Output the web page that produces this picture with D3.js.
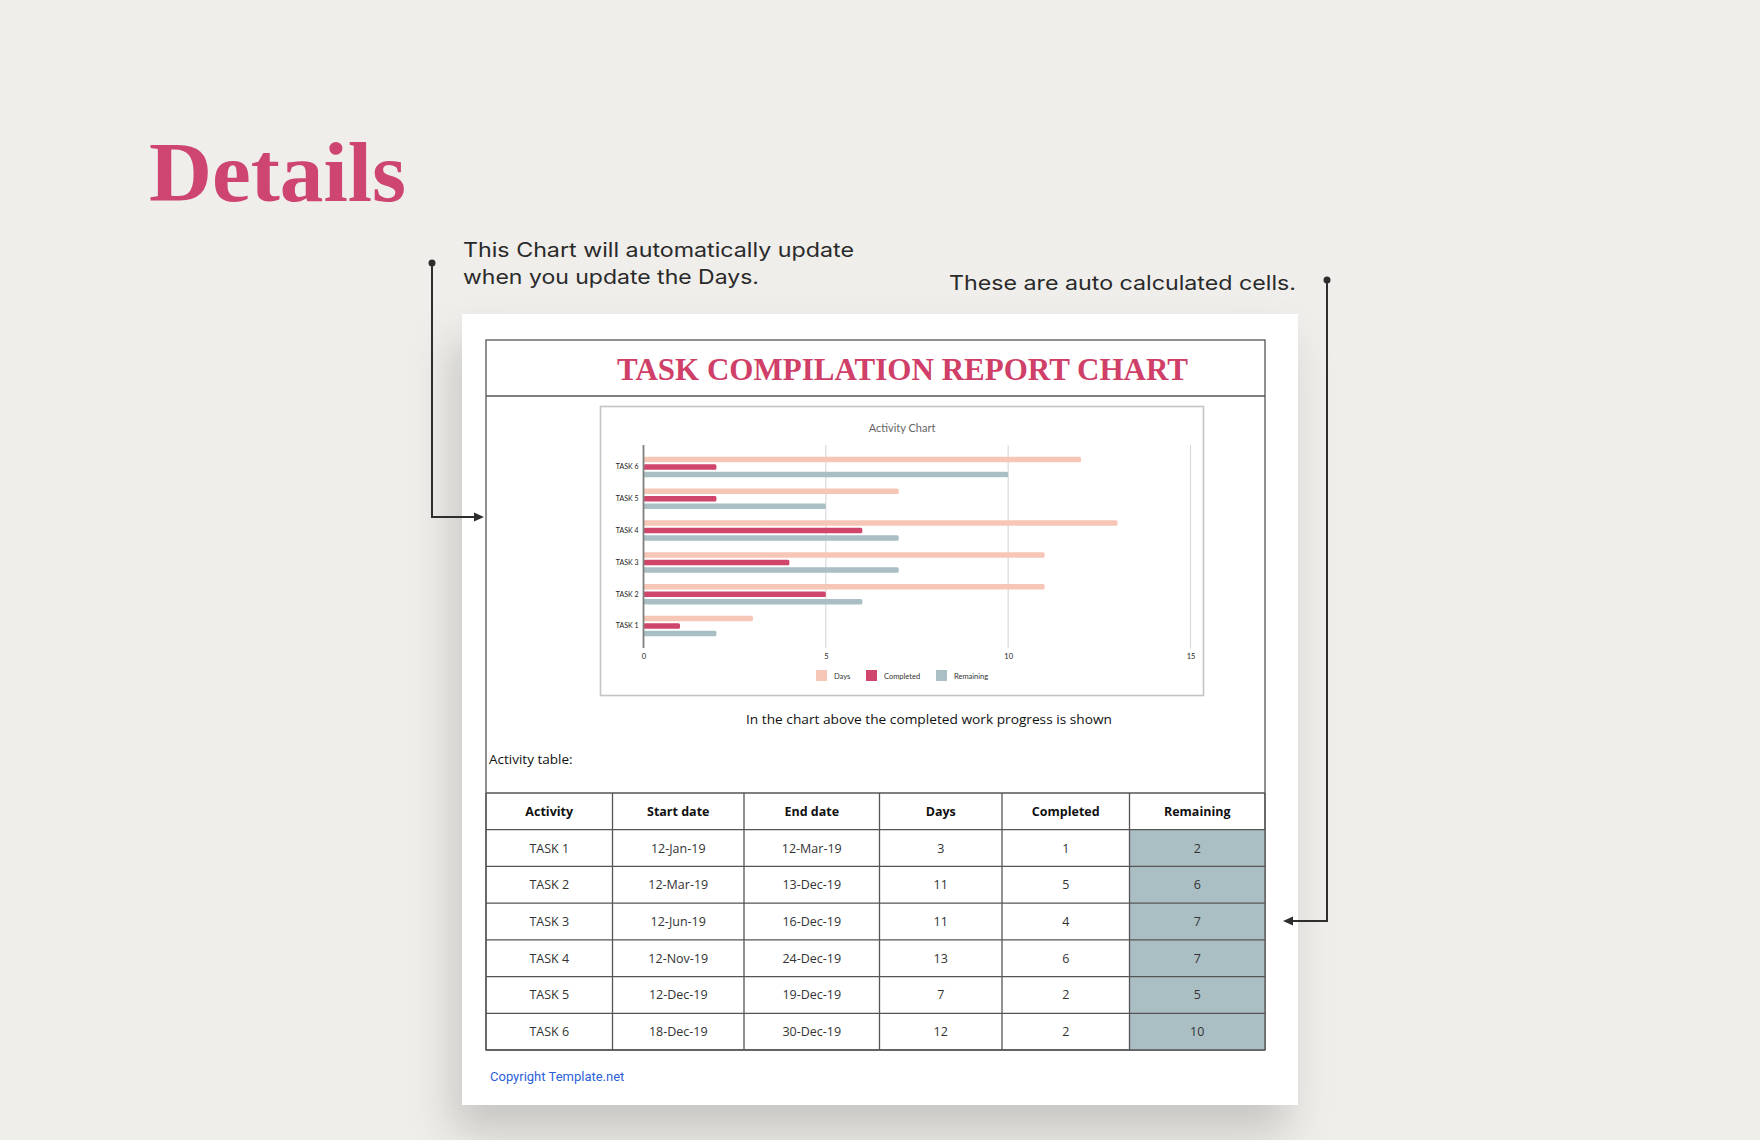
<!DOCTYPE html>
<html><head><meta charset="utf-8">
<script src="https://cdn.jsdelivr.net/npm/d3@7"></script>
<style>html,body{margin:0;padding:0;background:#efeeea;} svg{display:block}</style>
</head><body><svg id="c" width="1760" height="1140"></svg>
<script>
// ---------- data ----------
const tasks = ["TASK 1","TASK 2","TASK 3","TASK 4","TASK 5","TASK 6"];
const startDates = ["12-Jan-19","12-Mar-19","12-Jun-19","12-Nov-19","12-Dec-19","18-Dec-19"];
const endDates = ["12-Mar-19","13-Dec-19","16-Dec-19","24-Dec-19","19-Dec-19","30-Dec-19"];
const days = [3,11,11,13,7,12];
const completed = [1,5,4,6,2,2];
const remaining = [2,6,7,7,5,10];
const seriesNames = ["Days","Completed","Remaining"];
const seriesColors = ["#f6c6b7","#cf456b","#aabfc4"];
const xTicks = [0,5,10,15];
const tableHeaders = ["Activity","Start date","End date","Days","Completed","Remaining"];

// ---------- layout ----------
const svg = d3.select("#c");
const defs = svg.append("defs");
const f = defs.append("filter").attr("id","sh").attr("x","-20%").attr("y","-20%").attr("width","140%").attr("height","140%");
f.append("feDropShadow").attr("dx",-10).attr("dy",28).attr("stdDeviation",22)
  .attr("flood-color","#000").attr("flood-opacity",0.17);

svg.append("rect").attr("width",1760).attr("height",1140).attr("fill","#efeeea");

// heading
svg.append("text").attr("x",149).attr("y",201).text("Details")
  .attr("font-family","'Liberation Serif', serif").attr("font-weight","bold")
  .attr("font-size",84).attr("fill","#cd4570").attr("textLength",257).attr("lengthAdjust","spacingAndGlyphs");

const noteFont = "Inter, 'Open Sans', sans-serif";
function note(x,y,t,len){
  svg.append("text").attr("x",x).attr("y",y).text(t).attr("font-family",noteFont)
    .attr("font-size",20).attr("fill","#2a2a2a").attr("textLength",len).attr("lengthAdjust","spacingAndGlyphs");
}
note(463,257,"This Chart will automatically update",391);
note(463,284,"when you update the Days.",296);
note(949,290,"These are auto calculated cells.",347);

// card
svg.append("rect").attr("x",462).attr("y",314).attr("width",836).attr("height",791)
  .attr("fill","#fff").attr("filter","url(#sh)");

// connectors
const conn = svg.append("g").attr("stroke","#2e2e2e").attr("stroke-width",2).attr("fill","none");
conn.append("path").attr("d","M432,263 V517 H476");
conn.append("path").attr("d","M1327,280 V921 H1292");
svg.append("circle").attr("cx",432).attr("cy",263).attr("r",3.5).attr("fill","#2e2e2e");
svg.append("circle").attr("cx",1327).attr("cy",280).attr("r",3.5).attr("fill","#2e2e2e");
svg.append("path").attr("d","M484,517 L474,512.5 L474,521.5 Z").attr("fill","#2e2e2e");
svg.append("path").attr("d","M1283,921 L1293,916.5 L1293,925.5 Z").attr("fill","#2e2e2e");

// report frame
const frame = svg.append("g").attr("stroke","#555").attr("stroke-width",1.3).attr("fill","none");
frame.append("rect").attr("x",486).attr("y",340).attr("width",779).attr("height",710);
frame.append("line").attr("x1",486).attr("x2",1265).attr("y1",396).attr("y2",396);

svg.append("text").attr("x",902.5).attr("y",380).attr("text-anchor","middle")
  .text("TASK COMPILATION REPORT CHART")
  .attr("font-family","'Liberation Serif', serif").attr("font-weight","bold")
  .attr("font-size",31).attr("fill","#cf3f68").attr("textLength",571).attr("lengthAdjust","spacingAndGlyphs");

// ---------- chart ----------
const cf = "Lato, 'Open Sans', sans-serif";
svg.append("rect").attr("x",600.5).attr("y",406.5).attr("width",603).attr("height",289)
  .attr("fill","#fff").attr("stroke","#c4c4c4").attr("stroke-width",1.6);
svg.append("text").attr("x",902).attr("y",432).attr("text-anchor","middle").text("Activity Chart")
  .attr("font-family",cf).attr("font-size",11).attr("fill","#666");

const x = d3.scaleLinear().domain([0,15]).range([643.5,1190.5]);
const y = d3.scaleBand().domain(tasks.slice().reverse()).range([451,642]);
const sub = d3.scaleBand().domain(seriesNames).range([-11.25,11.25]);
const plotTop = 445, plotBot = 648;

const g = svg.append("g");
// gridlines
g.selectAll("line.grid").data(xTicks.slice(1)).join("line")
  .attr("x1",d=>x(d)).attr("x2",d=>x(d)).attr("y1",plotTop).attr("y2",plotBot)
  .attr("stroke","#d9d9d9").attr("stroke-width",1.2);

// bars
const seriesData = [days,completed,remaining];
seriesNames.forEach((s,si)=>{
  g.selectAll("rect.s"+si).data(tasks).join("rect")
    .attr("x",x(0)).attr("width",(d,i)=>x(seriesData[si][i])-x(0))
    .attr("y",d=>y(d)+y.bandwidth()/2+sub(s)+sub.bandwidth()/2-2.75)
    .attr("height",5.5).attr("rx",1.5).attr("fill",seriesColors[si]);
});

// axis line at 0
g.append("line").attr("x1",x(0)).attr("x2",x(0)).attr("y1",plotTop).attr("y2",plotBot)
  .attr("stroke","#7f7f7f").attr("stroke-width",1.8);

// y labels
const yAxis = d3.axisLeft(y).tickSize(0).tickPadding(4);
const ya = svg.append("g").attr("transform",`translate(${x(0)-1},0)`).call(yAxis);
ya.select(".domain").remove();
ya.selectAll("text").attr("font-family",cf).attr("font-size",7).attr("fill","#222");

// x labels
const xAxis = d3.axisBottom(x).tickValues(xTicks).tickSize(0).tickPadding(6);
const xa = svg.append("g").attr("transform",`translate(0,${plotBot})`).call(xAxis);
xa.select(".domain").remove();
xa.selectAll("text").attr("font-family",cf).attr("font-size",7.5).attr("fill","#222");

// legend
const legX = [816,866,936];
const lg = svg.append("g").selectAll("g").data(seriesNames).join("g")
  .attr("transform",(d,i)=>`translate(${legX[i]},670)`);
lg.append("rect").attr("width",11).attr("height",11).attr("fill",(d,i)=>seriesColors[i]);
lg.append("text").attr("x",18).attr("y",8.5).text(d=>d)
  .attr("font-family",cf).attr("font-size",7.5).attr("fill","#333");

// captions
const tf = "'Open Sans', 'DejaVu Sans', sans-serif";
svg.append("text").attr("x",929).attr("y",724).attr("text-anchor","middle")
  .text("In the chart above the completed work progress is shown")
  .attr("font-family",tf).attr("font-size",13.5).attr("fill","#111").attr("textLength",366).attr("lengthAdjust","spacingAndGlyphs");
svg.append("text").attr("x",489).attr("y",764).text("Activity table:")
  .attr("font-family",tf).attr("font-size",13.5).attr("fill","#111");

// ---------- table ----------
const colX = [486,612.5,744,879.5,1002,1129.5,1265];
const rowTop = 793, rowH = (1050-793)/7;
const rows = tasks.map((t,i)=>[t,startDates[i],endDates[i],days[i],completed[i],remaining[i]]);
const tg = svg.append("g");
// remaining fill
tg.selectAll("rect.rem").data(rows).join("rect")
  .attr("x",colX[5]).attr("width",colX[6]-colX[5])
  .attr("y",(d,i)=>rowTop+rowH*(i+1)).attr("height",rowH).attr("fill","#aabfc4");
// horizontal lines
tg.selectAll("line.h").data(d3.range(8)).join("line")
  .attr("x1",colX[0]).attr("x2",colX[6]).attr("y1",d=>rowTop+rowH*d).attr("y2",d=>rowTop+rowH*d)
  .attr("stroke","#555").attr("stroke-width",1.3);
tg.selectAll("line.v").data(colX).join("line")
  .attr("x1",d=>d).attr("x2",d=>d).attr("y1",rowTop).attr("y2",rowTop+rowH*7)
  .attr("stroke","#555").attr("stroke-width",1.3);
// header
tg.selectAll("text.hd").data(tableHeaders).join("text")
  .attr("x",(d,i)=>(colX[i]+colX[i+1])/2).attr("y",rowTop+rowH/2+4.5).attr("text-anchor","middle")
  .text(d=>d).attr("font-family",tf).attr("font-weight","bold").attr("font-size",12.5).attr("fill","#111");
// body
rows.forEach((r,ri)=>{
  tg.selectAll("text.r"+ri).data(r).join("text")
    .attr("x",(d,i)=>(colX[i]+colX[i+1])/2).attr("y",rowTop+rowH*(ri+1)+rowH/2+4.5).attr("text-anchor","middle")
    .text(d=>d).attr("font-family",tf).attr("font-size",12.5).attr("fill","#333");
});

svg.append("text").attr("x",490).attr("y",1081).text("Copyright Template.net")
  .attr("font-family","Roboto, sans-serif").attr("font-size",13).attr("fill","#2b62d9");
</script></body></html>
